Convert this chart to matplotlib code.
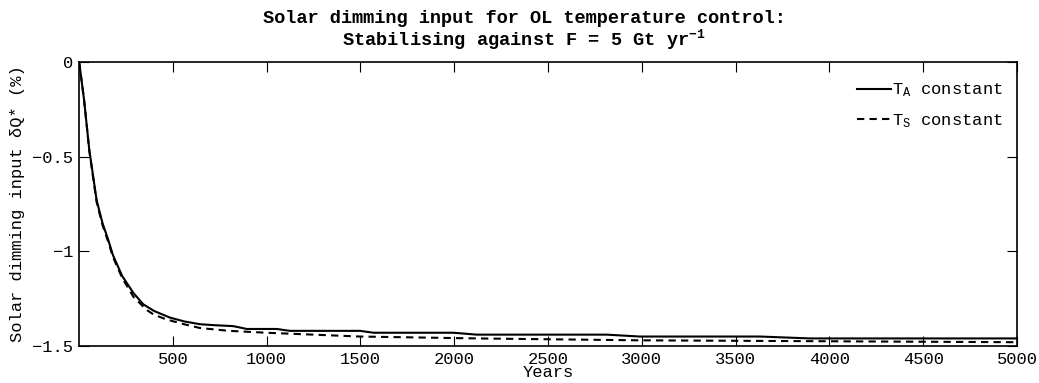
import numpy as np
import matplotlib.pyplot as plt

# curve (years, solar dimming input in %)
years_a = [1, 27, 55, 94, 125, 156, 181, 230, 290, 343, 400, 485, 560, 645, 720, 822, 894,
           1054, 1124, 1498, 1570, 1996, 2120, 2812, 2990, 3630, 3897, 5000]
dq_a = [0.0, -0.2, -0.465, -0.73, -0.85, -0.94, -1.02, -1.13, -1.22, -1.28, -1.315, -1.35,
        -1.37, -1.385, -1.39, -1.395, -1.41, -1.41, -1.42, -1.42, -1.43, -1.43, -1.44, -1.44,
        -1.45, -1.45, -1.46, -1.46]

years_s = [1, 27, 55, 94, 125, 156, 181, 230, 290, 361, 400, 467, 560, 645, 800, 1000, 1498,
           2120, 2990, 4000, 5000]
dq_s = [0.0, -0.2, -0.47, -0.74, -0.86, -0.95, -1.03, -1.14, -1.24, -1.31, -1.335, -1.36,
        -1.385, -1.405, -1.42, -1.43, -1.45, -1.46, -1.47, -1.475, -1.48]

x_ticks = [500, 1000, 1500, 2000, 2500, 3000, 3500, 4000, 4500, 5000]
y_ticks = [0, -0.5, -1, -1.5]
y_tick_labels = ['0', '\u22120.5', '\u22121', '\u22121.5']

plt.rcParams['font.family'] = ['Liberation Mono', 'DejaVu Sans Mono']
plt.rcParams['mathtext.fontset'] = 'custom'
plt.rcParams['mathtext.rm'] = 'Liberation Mono'
plt.rcParams['mathtext.it'] = 'Liberation Mono'
plt.rcParams['mathtext.bf'] = 'Liberation Mono:bold'

fig = plt.figure(figsize=(10.39, 3.83), dpi=100)
ax = fig.add_axes([79/1039, 1 - 346/383, (1017-79)/1039, (346-62)/383])

ax.plot(years_a, dq_a, color='black', lw=1.5, label='T$_A$ constant')
ax.plot(years_s, dq_s, color='black', lw=1.5, ls=(0, (3.5, 2.5)), label='T$_S$ constant')

ax.set_xlim(0, 5000)
ax.set_ylim(-1.5, 0)
ax.set_xticks(x_ticks)
ax.set_yticks(y_ticks)
ax.set_yticklabels(y_tick_labels)
ax.tick_params(direction='in', length=7, width=0.8, top=True, right=True,
               labelsize=12.3, pad=4)
for s in ax.spines.values():
    s.set_linewidth(1.2)

ax.set_xlabel('Years', fontsize=12.3, labelpad=-1)
ax.set_ylabel('Solar dimming input \u03b4Q* (%)', fontsize=12.3, labelpad=5)
fig.text(524/1039, 1 - 31/383,
         'Solar dimming input for OL temperature control:\n'
         'Stabilising against F = 5 Gt yr$^{\\mathbf{-1}}$',
         fontsize=13.4, fontweight='bold', ha='center', va='center', linespacing=1.05)

ax.legend(loc='upper right', frameon=False, fontsize=12.3, handlelength=2.0,
          handletextpad=0.05, labelspacing=0.75, borderaxespad=0.0,
          bbox_to_anchor=(0.992, 0.955))

fig.savefig('out.png', dpi=100)
